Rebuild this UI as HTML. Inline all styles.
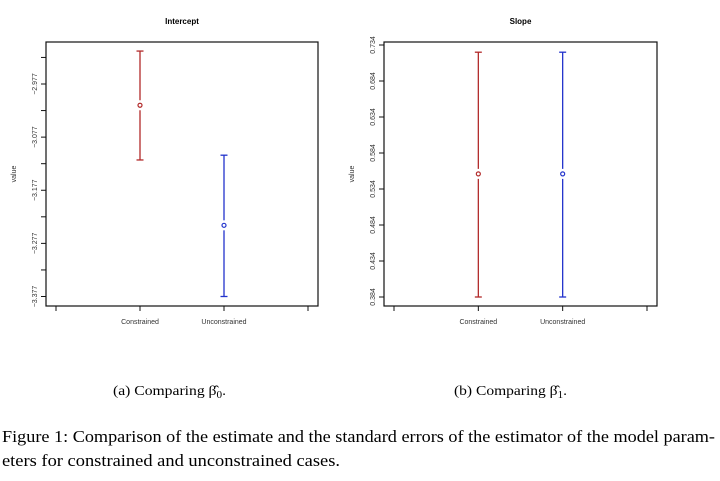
<!DOCTYPE html>
<html><head><meta charset="utf-8"><style>
html,body{margin:0;padding:0;background:#fff;}
svg{display:block;}
.tk{font-family:"Liberation Sans",sans-serif;font-size:7px;fill:#333;}
.ttl{font-family:"Liberation Sans",sans-serif;font-size:8px;font-weight:bold;fill:#000;}
.cap{font-family:"Liberation Serif",serif;fill:#000;}
</style></head><body>
<svg id="fig" width="720" height="481" viewBox="0 0 720 481" xmlns="http://www.w3.org/2000/svg">
<g id="pa"></g>
<g id="pb"></g>
<text class="cap" x="113" y="395" font-size="14" textLength="113" lengthAdjust="spacingAndGlyphs">(a) Comparing β̂<tspan font-size="10" dy="3">0</tspan><tspan dy="-3">.</tspan></text>
<text class="cap" x="454" y="395" font-size="14" textLength="113" lengthAdjust="spacingAndGlyphs">(b) Comparing β̂<tspan font-size="10" dy="3">1</tspan><tspan dy="-3">.</tspan></text>
<text class="cap" x="2" y="442" font-size="17" textLength="713" lengthAdjust="spacingAndGlyphs">Figure 1: Comparison of the estimate and the standard errors of the estimator of the model param-</text>
<text class="cap" x="2" y="466" font-size="17" textLength="338" lengthAdjust="spacingAndGlyphs">eters for constrained and unconstrained cases.</text>
</svg>
<script>
const categories = ["Constrained", "Unconstrained"];
const interceptEst = [-3.017, -3.243];
const interceptLo = [-3.120, -3.377];
const interceptHi = [-2.915, -3.111];
const interceptTicks = [-2.927, -2.977, -3.027, -3.077, -3.127, -3.177, -3.227, -3.277, -3.327, -3.377];
const interceptLabels = ["", "-2.977", "", "-3.077", "", "-3.177", "", "-3.277", "", "-3.377"];
const slopeEst = [0.555, 0.555];
const slopeLo = [0.384, 0.384];
const slopeHi = [0.724, 0.724];
const slopeTicks = [0.734, 0.684, 0.634, 0.584, 0.534, 0.484, 0.434, 0.384];
const slopeLabels = ["0.734", "0.684", "0.634", "0.584", "0.534", "0.484", "0.434", "0.384"];
const colors = ["#b22a2a", "#2233cc"];
const NS = "http://www.w3.org/2000/svg";
function mk(p, t, a) { const e = document.createElementNS(NS, t); for (const k in a) e.setAttribute(k, a[k]); p.appendChild(e); return e; }
function panel(g, o) {
  const x = v => o.x0 + (v / 3) * (o.x1 - o.x0);
  const y = v => o.yA + (v - o.vA) / (o.vB - o.vA) * (o.yB - o.yA);
  const t = mk(g, "text", {class: "ttl", x: (o.bx0 + o.bx1) / 2, y: 24, "text-anchor": "middle"});
  t.textContent = o.title;
  
  
  const yl = mk(g, "text", {class: "tk", transform: `translate(${o.bx0 - 30},${(o.by0 + o.by1) / 2}) rotate(-90)`, "text-anchor": "middle"});
  yl.textContent = "value";
  
  
  const box = mk(g, "rect", {x: o.bx0, y: o.by0, width: o.bx1 - o.bx0, height: o.by1 - o.by0, fill: "none", stroke: "#111", "stroke-width": 1.2});
  
  
  o.ticks.forEach((v, i) => {
    const yy = y(v);
    const l = mk(g, "line", {x1: o.bx0 - 5, x2: o.bx0, y1: yy, y2: yy, stroke: "#111"});
    
    
    if (o.labels[i]) {
      const tx = mk(g, "text", {class: "tk", transform: `translate(${o.bx0 - 9},${yy}) rotate(-90)`, "text-anchor": "middle"});
      tx.textContent = o.labels[i].replace("-", "\u2212");
      
      
    }
  });
  [0, 1, 2, 3].forEach(v => {
    const l = mk(g, "line", {x1: x(v), x2: x(v), y1: o.by1, y2: o.by1 + 5, stroke: "#111"});
    
    
  });
  categories.forEach((c, i) => {
    const xx = x(i + 1);
    const tx = mk(g, "text", {class: "tk", x: xx, y: o.by1 + 18, "text-anchor": "middle"});
    tx.textContent = c;
    
    
    const col = colors[i];
    const eg = mk(g, "g", {stroke: col, "stroke-width": 1.3, fill: "none"});
    
    
    const yh = y(o.hi[i]), yl2 = y(o.lo[i]), ye = y(o.est[i]);
    mk(eg, "line", {x1: xx, x2: xx, y1: yh, y2: ye - 5});
    mk(eg, "line", {x1: xx, x2: xx, y1: ye + 5, y2: yl2});
    mk(eg, "line", {x1: xx - 3.5, x2: xx + 3.5, y1: yh, y2: yh});
    mk(eg, "line", {x1: xx - 3.5, x2: xx + 3.5, y1: yl2, y2: yl2});
    const pt = mk(g, "circle", {cx: xx, cy: ye, r: 2, fill: "none", stroke: col, "stroke-width": 1.2});
    
    
  });
}
panel(document.getElementById("pa"), {title: "Intercept", bx0: 46, bx1: 318, by0: 42, by1: 306, x0: 56, x1: 308,
  vA: -2.977, yA: 84, vB: -3.377, yB: 296.5, ticks: interceptTicks, labels: interceptLabels,
  est: interceptEst, lo: interceptLo, hi: interceptHi});
panel(document.getElementById("pb"), {title: "Slope", bx0: 384, bx1: 657, by0: 42, by1: 306, x0: 394, x1: 647,
  vA: 0.734, yA: 45, vB: 0.384, yB: 297, ticks: slopeTicks, labels: slopeLabels,
  est: slopeEst, lo: slopeLo, hi: slopeHi});
</script>
</body></html>
